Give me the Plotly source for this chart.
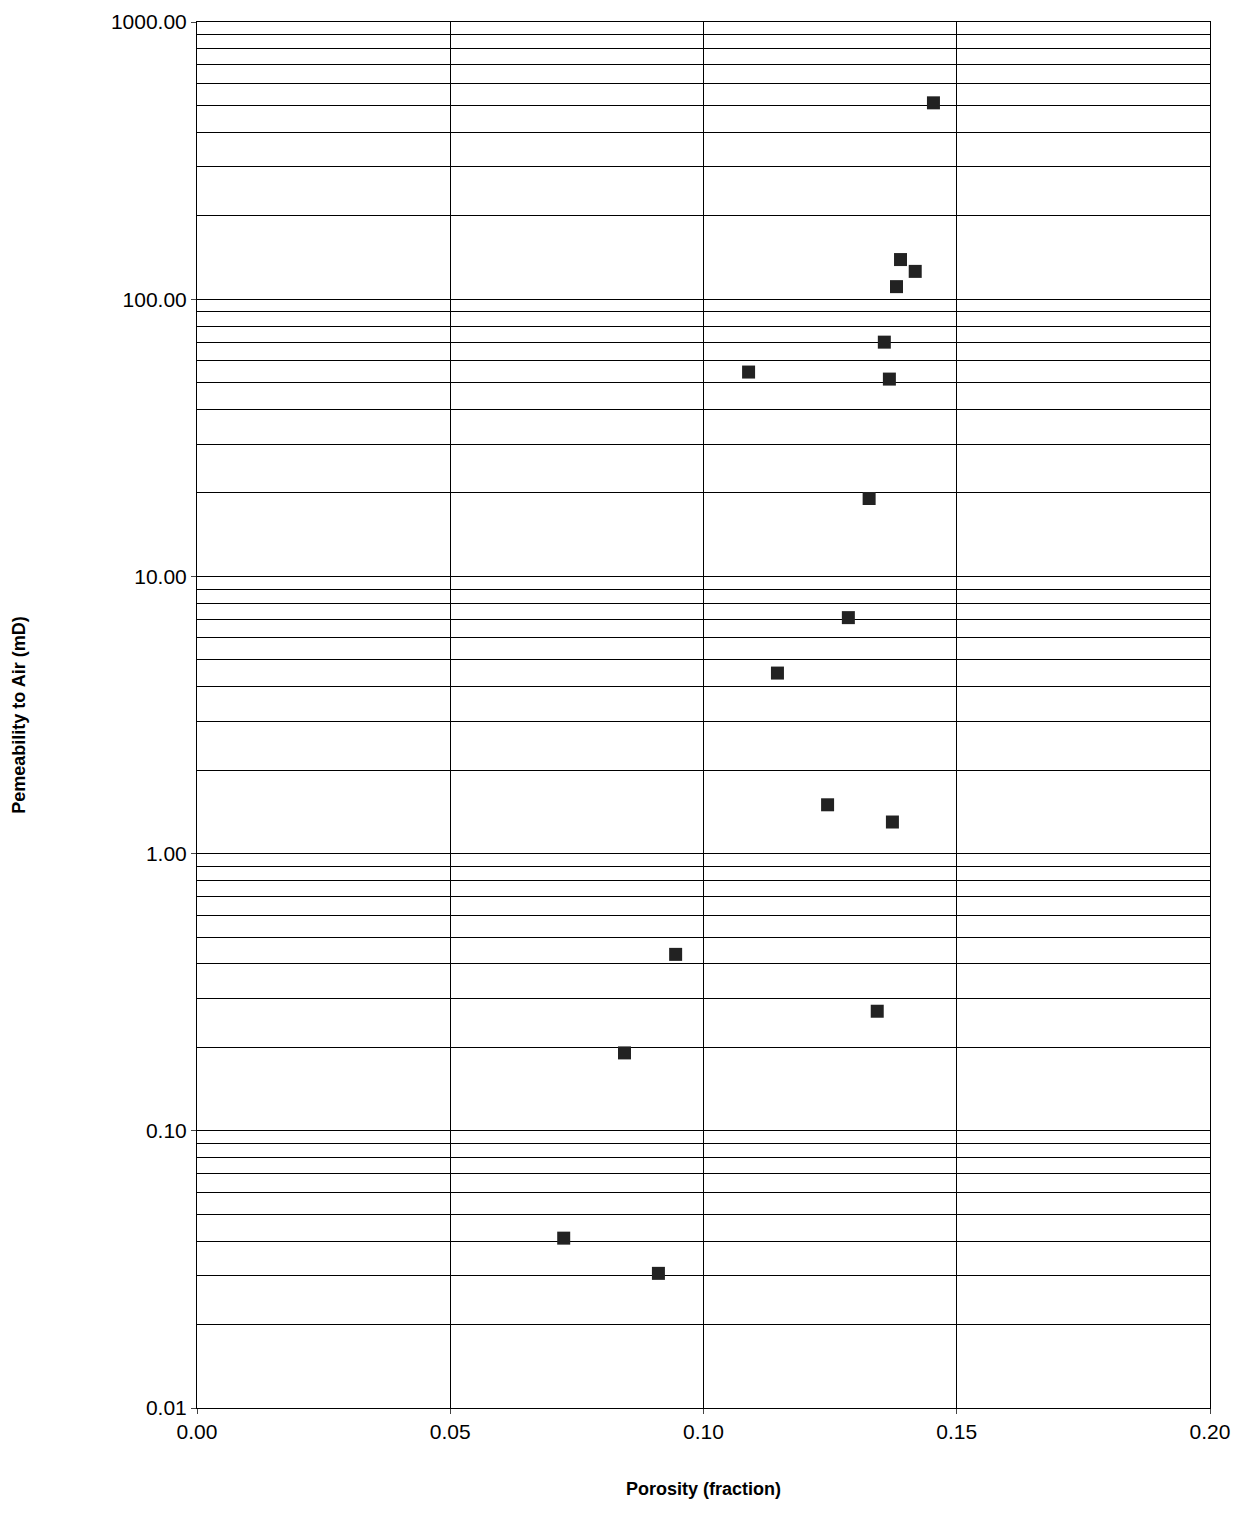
import plotly.graph_objects as go

porosity = [0.1454, 0.1389, 0.1418, 0.1381, 0.1357, 0.1367, 0.1089, 0.1327, 0.1286,
            0.1146, 0.1245, 0.1373, 0.0945, 0.1343, 0.0844, 0.0724, 0.0911]
permeability = [511, 139, 126, 111, 70, 51.5, 54.6, 19.1, 7.1,
                4.48, 1.50, 1.30, 0.433, 0.270, 0.191, 0.041, 0.0306]
y_ticks = [0.01, 0.1, 1, 10, 100, 1000]
y_labels = ["0.01", "0.10", "1.00", "10.00", "100.00", "1000.00"]
x_ticks = [0.0, 0.05, 0.10, 0.15, 0.20]
y_minor = [d * m for d in [0.01, 0.1, 1, 10, 100] for m in range(2, 10)]

fig = go.Figure()
fig.add_trace(go.Scatter(
    x=porosity, y=permeability, mode='markers',
    marker=dict(symbol='square', size=13, color='#222222'),
    showlegend=False
))

fig.update_layout(
    width=1247, height=1513,
    plot_bgcolor='white', paper_bgcolor='white',
    margin=dict(l=189, r=45, t=14, b=113),
    font=dict(family='Arial, Liberation Sans', color='black'),
    xaxis=dict(
        range=[0, 0.2], tickvals=x_ticks, tickformat='.2f',
        showgrid=True, gridcolor='black', gridwidth=1,
        showline=True, linecolor='black', mirror=True,
        ticks='outside', ticklen=5, tickfont=dict(size=21),
        title=dict(text='<b>Porosity (fraction)</b>', font=dict(size=18), standoff=40),
        zeroline=False, automargin=False,
    ),
    yaxis=dict(
        type='log', range=[-2, 3], tickvals=y_ticks, ticktext=y_labels,
        showgrid=True, gridcolor='black', gridwidth=1,
        showline=True, linecolor='black', mirror=True,
        ticks='outside', ticklen=5, tickfont=dict(size=21),
        minor=dict(tickvals=y_minor, showgrid=True, gridcolor='black', gridwidth=1),
        title=dict(text='<b>Pemeability to Air (mD)</b>', font=dict(size=18), standoff=80),
        automargin=False,
    ),
)

fig.write_html("out.html")
